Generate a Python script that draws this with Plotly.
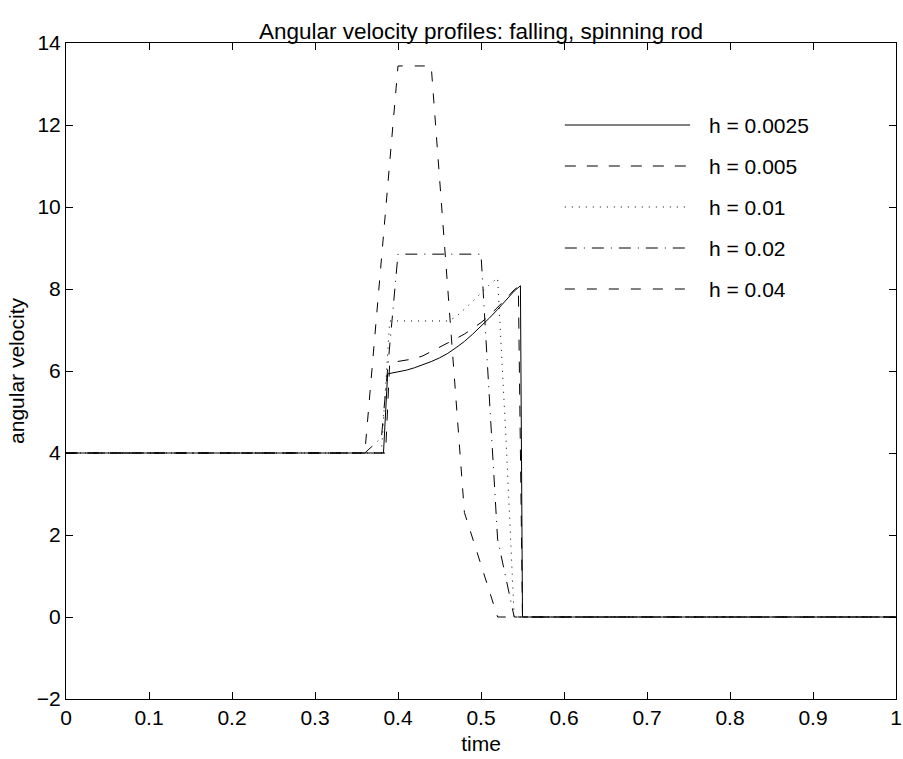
import plotly.graph_objects as go

# perfis de velocidade angular (tempo x velocidade)
t_0025 = [0, 0.3825, 0.3875, 0.40, 0.41, 0.42, 0.43, 0.44, 0.45, 0.46, 0.47, 0.48,
          0.49, 0.50, 0.51, 0.52, 0.53, 0.54, 0.5475, 0.55, 1.0]
w_0025 = [4, 4, 5.93, 5.97, 6.02, 6.08, 6.15, 6.23, 6.32, 6.43, 6.57, 6.72,
          6.90, 7.09, 7.29, 7.50, 7.72, 7.95, 8.08, 0, 0]

t_005 = [0, 0.385, 0.39, 0.40, 0.41, 0.42, 0.43, 0.44, 0.45, 0.46, 0.47, 0.48,
         0.49, 0.50, 0.51, 0.52, 0.53, 0.54, 0.545, 0.55, 1.0]
w_005 = [4, 4, 6.20, 6.23, 6.26, 6.30, 6.37, 6.47, 6.58, 6.68, 6.79, 6.90,
         7.03, 7.18, 7.35, 7.55, 7.76, 7.98, 8.06, 0, 0]

t_01 = [0, 0.38, 0.39, 0.46, 0.47, 0.48, 0.49, 0.50, 0.51, 0.52, 0.53, 0.54, 1.0]
w_01 = [4, 4, 7.22, 7.22, 7.32, 7.50, 7.70, 7.90, 8.10, 8.27, 4.40, 0, 0]

t_02 = [0, 0.36, 0.38, 0.40, 0.50, 0.52, 0.54, 1.0]
w_02 = [4, 4, 4.37, 8.85, 8.85, 1.90, 0, 0]

t_04 = [0, 0.36, 0.40, 0.44, 0.48, 0.52, 1.0]
w_04 = [4, 4, 13.44, 13.44, 2.55, 0, 0]

labels = ['h = 0.0025', 'h = 0.005', 'h = 0.01', 'h = 0.02', 'h = 0.04']
dashes = ['solid', '11px,11px', '1px,6px', '12px,7px,1px,7px', '10px,12px']
series = [(t_0025, w_0025), (t_005, w_005), (t_01, w_01), (t_02, w_02), (t_04, w_04)]

fonte = 'Liberation Sans, Arial, sans-serif'

fig = go.Figure()
for (t, w), nome, dash in zip(series, labels, dashes):
    fig.add_trace(go.Scatter(x=t, y=w, mode='lines', name=nome, showlegend=False,
                             line=dict(color='black', width=1, dash=dash)))

# legenda desenhada à mão (amostras de linha longas como no original)
leg_y = [125, 166, 207, 248, 289]
for py, nome, dash in zip(leg_y, labels, dashes):
    yp = (699 - py) / 656
    fig.add_shape(type='line', xref='paper', yref='paper', x0=0.601, x1=0.752, y0=yp, y1=yp,
                  line=dict(color='black', width=1, dash=dash))
    fig.add_annotation(xref='paper', yref='paper', x=0.772, y=yp, text=nome, showarrow=False,
                       xanchor='left', yanchor='middle', font=dict(size=21, color='black', family=fonte))

eixo = dict(showgrid=False, zeroline=False, showline=True, linecolor='black', linewidth=1,
            mirror='allticks', ticks='inside', ticklen=7, tickcolor='black', automargin=False,
            tickfont=dict(size=21, color='black', family=fonte))

fig.update_layout(
    width=903, height=759,
    margin=dict(l=66, r=7, t=43, b=60),
    paper_bgcolor='white', plot_bgcolor='white',
    font=dict(family=fonte, color='black', size=21),
    title=dict(text='Angular velocity profiles: falling, spinning rod', x=0.5327, xanchor='center',
               y=1 - 23 / 759, yref='container', yanchor='top', font=dict(size=22.5)),
    xaxis=dict(range=[0, 1], tickvals=[0, 0.1, 0.2, 0.3, 0.4, 0.5, 0.6, 0.7, 0.8, 0.9, 1],
               ticktext=['0', '0.1', '0.2', '0.3', '0.4', '0.5', '0.6', '0.7', '0.8', '0.9', '1'],
               ticklabeloverflow='allow',
               title=dict(text='time', standoff=8, font=dict(size=21)), **eixo),
    yaxis=dict(range=[-2, 14], tickvals=[-2, 0, 2, 4, 6, 8, 10, 12, 14],
               title=dict(text='angular velocity', standoff=6, font=dict(size=21)), **eixo),
)

# tira a margem padrão do body para a figura ocupar a janela toda
fig.write_html('out.html', config={'displayModeBar': False},
               post_script="document.body.style.margin='0';")
